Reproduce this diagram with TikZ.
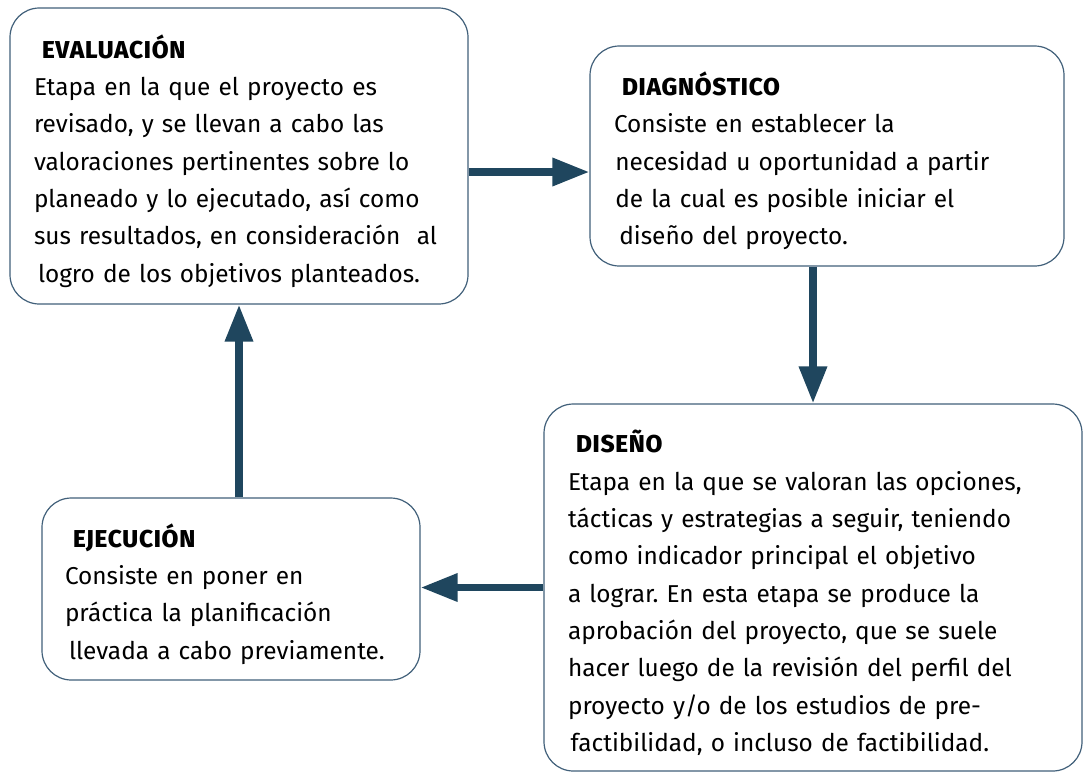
\documentclass[tikz,border=0pt]{standalone}
\usepackage{fontspec}
\setmainfont{Fira Sans}
\newfontfamily\titlefont{Fira Sans ExtraBold}
\usetikzlibrary{arrows.meta, positioning, calc}

\definecolor{flowblue}{HTML}{1F465E}
\definecolor{boxline}{HTML}{41607A}

\newcommand{\stagetitle}[1]{\rule{0pt}{25pt}\hspace*{6pt}{\titlefont\addfontfeature{LetterSpace=3}#1}}

\begin{document}
\frenchspacing
\begin{tikzpicture}[x=0.75pt, y=-0.75pt]
  % Styles
  \tikzstyle{stage} = [rectangle, rounded corners=22pt, draw=boxline, line width=0.9pt, fill=white,
                       align=left, inner xsep=0pt, inner ysep=0pt,
                       font=\fontsize{18.3}{28}\selectfont]
  \tikzstyle{flow} = [draw=flowblue, line width=5.6pt, -{Triangle[length=27.75pt, width=20pt]}, color=flowblue]

  \useasboundingbox (0,0) rectangle (1084,772);

  % Stages
  \node[stage, minimum width=458*0.75pt, minimum height=296*0.75pt, text width=410*0.75pt] (EVAL) at (239,156)
    {\stagetitle{EVALUACIÓN}\\
     Etapa en la que el proyecto es\\
     revisado, y se llevan a cabo las\\
     valoraciones pertinentes sobre lo\\
     planeado y lo ejecutado, así como\\
     sus resultados, en consideración\ \ al\\
     \hspace*{3pt}logro de los objetivos planteados.};
  \node[stage, minimum width=474*0.75pt, minimum height=220*0.75pt, text width=426*0.75pt] (DIAG) at (827,156)
    {\stagetitle{DIAGNÓSTICO}\\
     Consiste en establecer la\\
     \hspace*{1pt}necesidad u oportunidad a partir\\
     \hspace*{1pt}de la cual es posible iniciar el\\
     \hspace*{4pt}diseño del proyecto.};
  \node[stage, minimum width=538*0.75pt, minimum height=367*0.75pt, text width=490*0.75pt] (DIS) at (813,587.5)
    {\stagetitle{DISEÑO}\\
     Etapa en la que se valoran las opciones,\\
     tácticas y estrategias a seguir, teniendo\\
     como indicador principal el objetivo\\
     a lograr. En esta etapa se produce la\\
     aprobación del proyecto, que se suele\\
     hacer luego de la revisión del perfil del\\
     proyecto y/o de los estudios de pre-\\
     \hspace*{2pt}factibilidad, o incluso de factibilidad.};
  \node[stage, minimum width=378*0.75pt, minimum height=182*0.75pt, text width=332*0.75pt] (EJEC) at (231,589)
    {\stagetitle{EJECUCIÓN}\\
     Consiste en poner en\\
     práctica la planificación\\
     \hspace*{3pt}llevada a cabo previamente.};

  % Cycle
  \draw[flow] ($(EVAL.east)+(0,16)$) -- ($(DIAG.west)+(0,16)$);
  \draw[flow] (DIAG.south -| DIS.north) -- (DIS.north);
  \draw[flow] (DIS.west) -- (DIS.west -| EJEC.east);
  \draw[flow] (EJEC.north -| EVAL.south) -- (EVAL.south);

\end{tikzpicture}
\end{document}
